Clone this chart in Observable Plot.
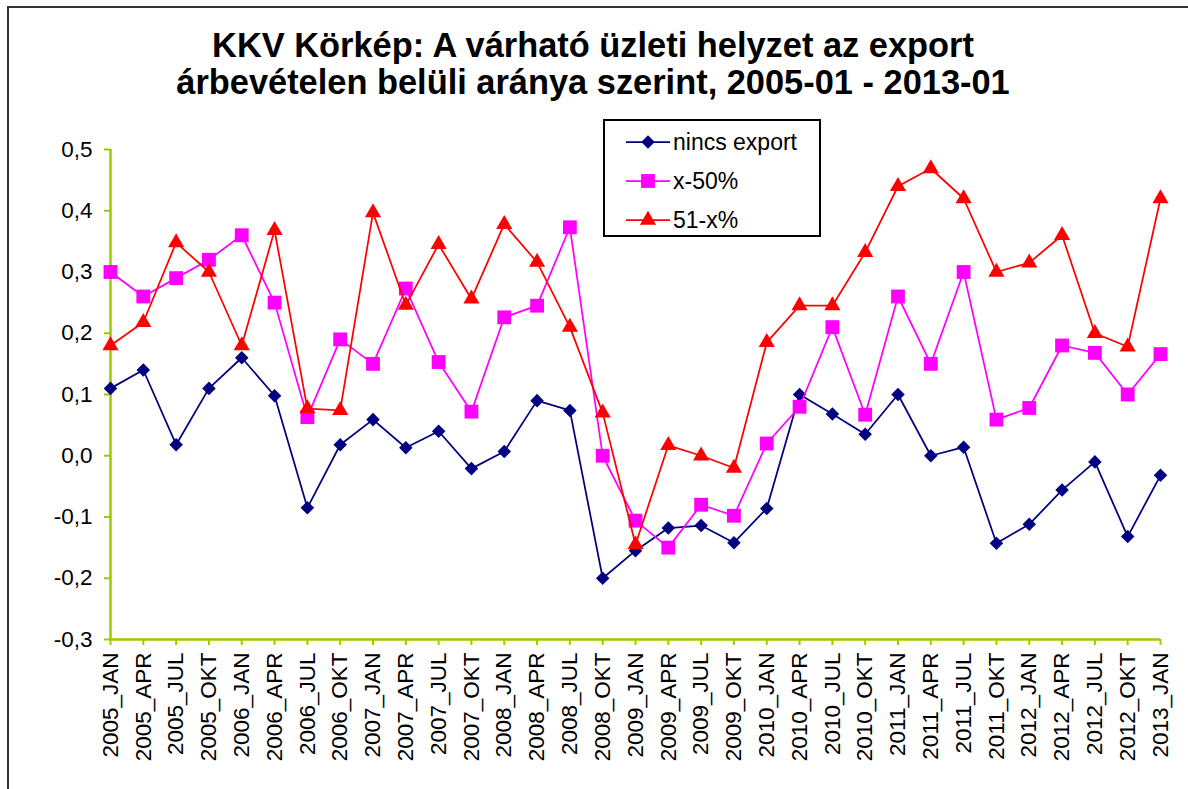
<!DOCTYPE html>
<html>
<head>
<meta charset="utf-8">
<script src="https://cdn.jsdelivr.net/npm/d3@7"></script>
<script src="https://cdn.jsdelivr.net/npm/@observablehq/plot@0.6"></script>
<style>
  body { margin: 0; background: #fff; font-family: "Liberation Sans", Arial, sans-serif; }
  #wrap { position: relative; width: 1188px; height: 789px; overflow: hidden; background: #fff; }
  #frame { position: absolute; left: 7px; top: 6px; width: 1200px; height: 800px; border-left: 2px solid #333; border-top: 2px solid #333; }
  #chart { position: absolute; left: 0; top: 0; }
  #title { position: absolute; left: 0; top: 27px; width: 1186px; text-align: center; font-weight: bold; font-size: 34.4px; line-height: 37px; color: #000; }
  #legend { position: absolute; left: 603px; top: 119px; }
</style>
</head>
<body>
<div id="wrap">
  <div id="frame"></div>
  <div id="chart"></div>
  <div id="title">KKV Körkép: A várható üzleti helyzet az export<br>árbevételen belüli aránya szerint, 2005-01 - 2013-01</div>
  <div id="legend"></div>
</div>
<script>
const categories = [
  "2005_JAN","2005_APR","2005_JUL","2005_OKT",
  "2006_JAN","2006_APR","2006_JUL","2006_OKT",
  "2007_JAN","2007_APR","2007_JUL","2007_OKT",
  "2008_JAN","2008_APR","2008_JUL","2008_OKT",
  "2009_JAN","2009_APR","2009_JUL","2009_OKT",
  "2010_JAN","2010_APR","2010_JUL","2010_OKT",
  "2011_JAN","2011_APR","2011_JUL","2011_OKT",
  "2012_JAN","2012_APR","2012_JUL","2012_OKT",
  "2013_JAN"
];

const seriesNames = ["nincs export", "x-50%", "51-x%"];

const nincsExport = [
  0.110, 0.140, 0.018, 0.110, 0.160, 0.098, -0.085, 0.018,
  0.059, 0.013, 0.040, -0.021, 0.007, 0.090, 0.074, -0.200,
  -0.155, -0.118, -0.114, -0.142, -0.086, 0.100, 0.068, 0.035,
  0.100, 0.000, 0.014, -0.143, -0.112, -0.056, -0.010, -0.132,
  -0.032
];

const x50 = [
  0.300, 0.260, 0.290, 0.320, 0.360, 0.250, 0.063, 0.190,
  0.150, 0.273, 0.153, 0.072, 0.226, 0.245, 0.373, 0.000,
  -0.106, -0.150, -0.080, -0.098, 0.020, 0.080, 0.210, 0.067,
  0.260, 0.150, 0.300, 0.059, 0.078, 0.180, 0.168, 0.100,
  0.166
];

const x51 = [
  0.180, 0.218, 0.348, 0.300, 0.180, 0.368, 0.077, 0.074,
  0.397, 0.246, 0.345, 0.256, 0.378, 0.316, 0.210, 0.070,
  -0.145, 0.017, 0.000, -0.020, 0.185, 0.245, 0.245, 0.332,
  0.440, 0.469, 0.420, 0.300, 0.315, 0.360, 0.200, 0.178,
  0.420
];

const yTicks = [-0.3, -0.2, -0.1, 0.0, 0.1, 0.2, 0.3, 0.4, 0.5];

const colors = ["#000080", "#ff00ff", "#ff0000"];
const symbols = ["diamond2", "square", "triangle"];
const radii = [6.1, 7.8, 6.0];
const axisColor = "#99cc00";

const seriesValues = [nincsExport, x50, x51];
const series = seriesNames.map((name, k) => ({
  name, color: colors[k], symbol: symbols[k], r: radii[k],
  rows: categories.map((c, i) => ({cat: c, value: seriesValues[k][i]}))
}));

const fmt = d => d.toFixed(1).replace(".", ",");

const chart = Plot.plot({
  width: 1188,
  height: 789,
  marginLeft: 110,
  marginRight: 28,
  marginTop: 149,
  marginBottom: 150,
  style: { fontSize: "22.5px", fontFamily: "'Liberation Sans', Arial, sans-serif", background: "transparent", color: "#000" },
  x: { type: "point", domain: categories, padding: 0, round: false },
  y: { domain: [yTicks[0], yTicks[yTicks.length - 1]] },
  marks: [
    Plot.axisY({ ticks: yTicks, tickFormat: fmt, tickSize: 6, tickPadding: 12, stroke: axisColor, strokeWidth: 2, fill: "#000", label: null }),
    Plot.axisX({ tickRotate: -90, tickSize: 6, tickPadding: 7, stroke: axisColor, strokeWidth: 2, fill: "#000", label: null }),
    Plot.ruleX([categories[0]], { stroke: axisColor, strokeWidth: 2.5 }),
    Plot.ruleY([yTicks[0]], { stroke: axisColor, strokeWidth: 2.5 }),
    ...series.flatMap(s => [
      Plot.line(s.rows, { x: "cat", y: "value", stroke: s.color, strokeWidth: 1.75 }),
      Plot.dot(s.rows, { x: "cat", y: "value", symbol: s.symbol, r: s.r, fill: s.color, stroke: "none" })
    ])
  ]
});
document.getElementById("chart").appendChild(chart);

// Legend
const lw = 220, lh = 120;
const leg = d3.select("#legend").append("svg").attr("width", lw).attr("height", lh);
leg.append("rect").attr("x", 1).attr("y", 1).attr("width", 216).attr("height", 116)
  .attr("fill", "#fff").attr("stroke", "#000").attr("stroke-width", 2);
const symMap = { diamond2: d3.symbolDiamond2, square: d3.symbolSquare, triangle: d3.symbolTriangle };
const rowY = [23, 62, 101];
series.forEach((s, k) => {
  const g = leg.append("g").attr("transform", `translate(0,${rowY[k]})`);
  g.append("line").attr("x1", 23).attr("x2", 67).attr("y1", 0).attr("y2", 0)
    .attr("stroke", s.color).attr("stroke-width", 1.75);
  g.append("path").attr("transform", "translate(45,0)")
    .attr("d", d3.symbol(symMap[s.symbol], Math.PI * s.r * s.r)())
    .attr("fill", s.color);
  g.append("text").attr("x", 70).attr("y", 0).attr("dy", "0.35em")
    .attr("font-size", 23).attr("font-family", "'Liberation Sans', Arial, sans-serif")
    .text(s.name);
});
</script>
</body>
</html>
